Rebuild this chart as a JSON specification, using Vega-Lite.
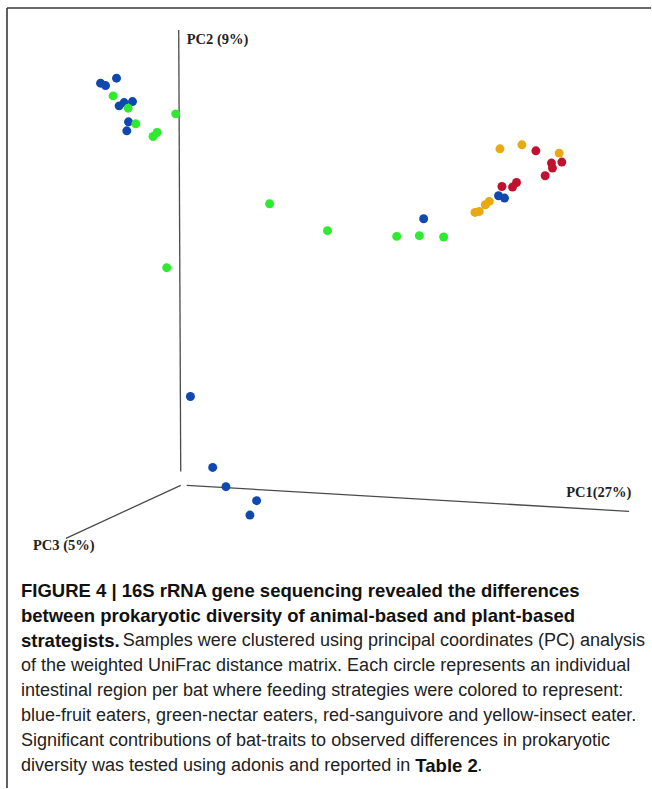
{
  "$schema": "https://vega.github.io/schema/vega-lite/v6.json",
  "width": 652,
  "height": 789,
  "autosize": {"type": "fit", "contains": "padding"},
  "padding": 0,
  "background": "white",
  "config": {"view": {"stroke": null}},
  "datasets": {
    "segments": [
      {"kind": "frame", "x": 7, "y": 8, "x2": 652, "y2": 8},
      {"kind": "frame", "x": 7, "y": 8, "x2": 7, "y2": 789},
      {"kind": "axis", "x": 179, "y": 30, "x2": 181, "y2": 472},
      {"kind": "axis", "x": 187, "y": 486, "x2": 630, "y2": 512},
      {"kind": "axis", "x": 181, "y": 486, "x2": 66, "y2": 539}
    ],
    "axislabels": [
      {"label": "PC2 (9%)", "x": 187, "y": 40},
      {"label": "PC1(27%)", "x": 567, "y": 494},
      {"label": "PC3 (5%)", "x": 33, "y": 547}
    ],
    "points": [
      {"diet": "fruit", "x": 100.7, "y": 83.3},
      {"diet": "fruit", "x": 105.7, "y": 85.7},
      {"diet": "fruit", "x": 116.7, "y": 78.3},
      {"diet": "fruit", "x": 119.3, "y": 106},
      {"diet": "fruit", "x": 124.3, "y": 102.7},
      {"diet": "fruit", "x": 132.7, "y": 101.7},
      {"diet": "fruit", "x": 128.7, "y": 122},
      {"diet": "fruit", "x": 127, "y": 131},
      {"diet": "fruit", "x": 424.3, "y": 219},
      {"diet": "fruit", "x": 499.3, "y": 196},
      {"diet": "fruit", "x": 505.3, "y": 198.3},
      {"diet": "fruit", "x": 190.7, "y": 397},
      {"diet": "fruit", "x": 213, "y": 468},
      {"diet": "fruit", "x": 226.3, "y": 487.3},
      {"diet": "fruit", "x": 257, "y": 501.3},
      {"diet": "fruit", "x": 250.3, "y": 515.7},
      {"diet": "nectar", "x": 113.3, "y": 96},
      {"diet": "nectar", "x": 128.3, "y": 108.3},
      {"diet": "nectar", "x": 136, "y": 124},
      {"diet": "nectar", "x": 153.3, "y": 136.7},
      {"diet": "nectar", "x": 157.3, "y": 132.7},
      {"diet": "nectar", "x": 176, "y": 114},
      {"diet": "nectar", "x": 270, "y": 204},
      {"diet": "nectar", "x": 328, "y": 231},
      {"diet": "nectar", "x": 167, "y": 268},
      {"diet": "nectar", "x": 397.3, "y": 236.7},
      {"diet": "nectar", "x": 420, "y": 236},
      {"diet": "nectar", "x": 444.3, "y": 237.3},
      {"diet": "sanguivore", "x": 536.7, "y": 151},
      {"diet": "sanguivore", "x": 562.7, "y": 162.3},
      {"diet": "sanguivore", "x": 552.3, "y": 163.3},
      {"diet": "sanguivore", "x": 553.3, "y": 168.3},
      {"diet": "sanguivore", "x": 546, "y": 176},
      {"diet": "sanguivore", "x": 517.3, "y": 182.7},
      {"diet": "sanguivore", "x": 513.3, "y": 187.3},
      {"diet": "sanguivore", "x": 502.7, "y": 186.7},
      {"diet": "insect", "x": 500.7, "y": 149},
      {"diet": "insect", "x": 522.7, "y": 145},
      {"diet": "insect", "x": 560, "y": 153.3},
      {"diet": "insect", "x": 490, "y": 201.7},
      {"diet": "insect", "x": 486, "y": 205},
      {"diet": "insect", "x": 480, "y": 211.7},
      {"diet": "insect", "x": 475.7, "y": 212.7}
    ],
    "caption": [
      {"part": "bold", "x": 21, "y": 592, "text": "FIGURE 4 | 16S rRNA gene sequencing revealed the differences"},
      {"part": "bold", "x": 21, "y": 617, "text": "between prokaryotic diversity of animal-based and plant-based"},
      {"part": "bold", "x": 21, "y": 642, "text": "strategists."},
      {"part": "normal", "x": 123, "y": 642, "text": "Samples were clustered using principal coordinates (PC) analysis"},
      {"part": "normal", "x": 21, "y": 667, "text": "of the weighted UniFrac distance matrix. Each circle represents an individual"},
      {"part": "normal", "x": 21, "y": 692, "text": "intestinal region per bat where feeding strategies were colored to represent:"},
      {"part": "normal", "x": 21, "y": 717, "text": "blue-fruit eaters, green-nectar eaters, red-sanguivore and yellow-insect eater."},
      {"part": "normal", "x": 21, "y": 742, "text": "Significant contributions of bat-traits to observed differences in prokaryotic"},
      {"part": "normal", "x": 21, "y": 767, "text": "diversity was tested using adonis and reported in"},
      {"part": "bold", "x": 416, "y": 767, "text": "Table 2"},
      {"part": "normal", "x": 478, "y": 767, "text": "."}
    ]
  },
  "encoding": {
    "x": {"field": "x", "type": "quantitative", "scale": {"domain": [0, 652], "nice": false, "zero": false}, "axis": null},
    "y": {"field": "y", "type": "quantitative", "scale": {"domain": [0, 789], "nice": false, "zero": false, "reverse": true}, "axis": null}
  },
  "layer": [
    {
      "data": {"name": "segments"},
      "transform": [{"filter": "datum.kind === 'frame'"}],
      "mark": {"type": "rule", "stroke": "#3a3a3a", "strokeWidth": 1.6},
      "encoding": {"x2": {"field": "x2"}, "y2": {"field": "y2"}}
    },
    {
      "data": {"name": "segments"},
      "transform": [{"filter": "datum.kind === 'axis'"}],
      "mark": {"type": "rule", "stroke": "#4a4a4a", "strokeWidth": 1.3},
      "encoding": {"x2": {"field": "x2"}, "y2": {"field": "y2"}}
    },
    {
      "data": {"name": "axislabels"},
      "mark": {"type": "text", "align": "left", "baseline": "middle", "font": "Liberation Serif", "fontSize": 14.5, "fontWeight": "bold", "fill": "#222"},
      "encoding": {"text": {"field": "label"}}
    },
    {
      "data": {"name": "points"},
      "mark": {"type": "circle", "size": 80, "opacity": 1},
      "encoding": {
        "color": {
          "field": "diet",
          "type": "nominal",
          "scale": {"domain": ["fruit", "nectar", "sanguivore", "insect"], "range": ["#1048b0", "#2fea2f", "#c0112e", "#e8a911"]},
          "legend": null
        }
      }
    },
    {
      "data": {"name": "caption"},
      "transform": [{"filter": "datum.part === 'bold'"}],
      "mark": {"type": "text", "align": "left", "baseline": "middle", "font": "Liberation Sans", "fontSize": 18.5, "fontWeight": "bold", "fill": "#111"},
      "encoding": {"text": {"field": "text"}}
    },
    {
      "data": {"name": "caption"},
      "transform": [{"filter": "datum.part === 'normal'"}],
      "mark": {"type": "text", "align": "left", "baseline": "middle", "font": "Liberation Sans", "fontSize": 18, "fill": "#222"},
      "encoding": {"text": {"field": "text"}}
    }
  ]
}
